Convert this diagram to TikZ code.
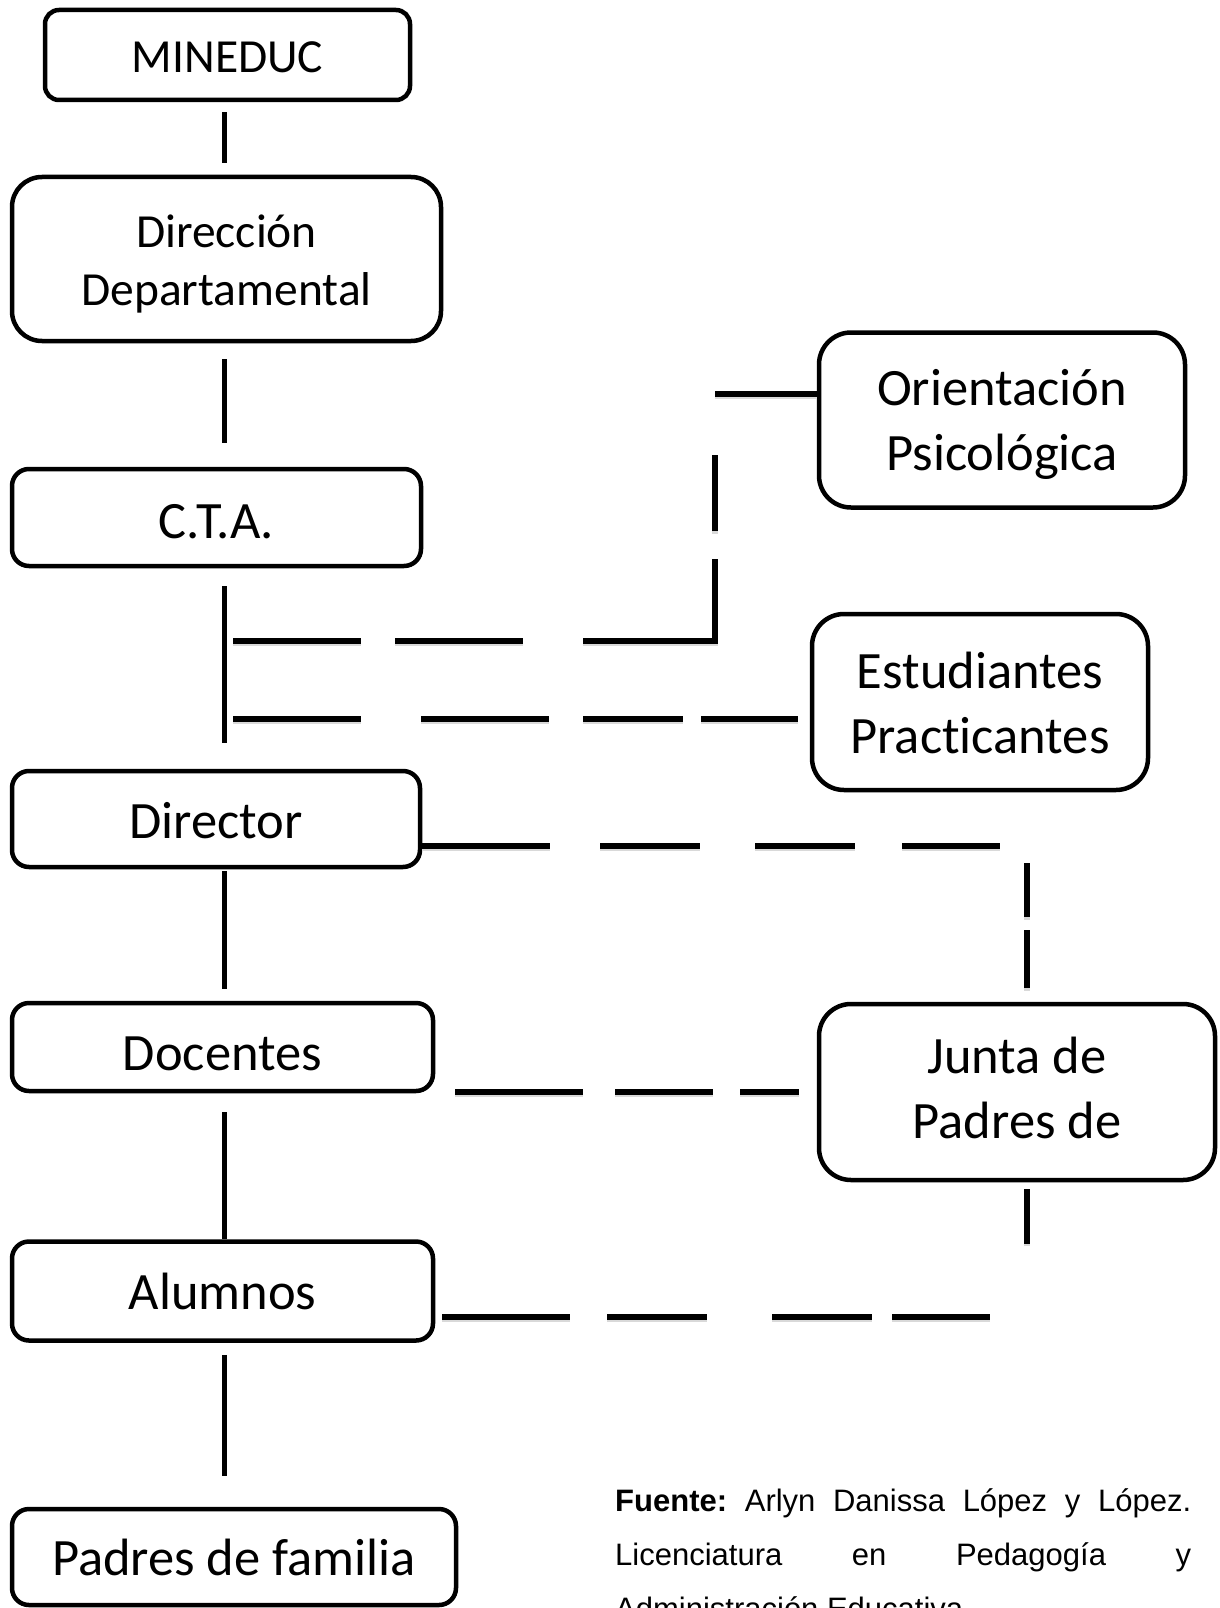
\documentclass[tikz,border=0pt]{standalone}
\usepackage{fontspec}
\setmainfont{Carlito}[Ligatures=CommonOff]
\newfontfamily\capfont{Liberation Sans}
\usepackage{tikz}

\begin{document}
\begin{tikzpicture}[x=1pt, y=-1pt,
  org/.style={draw, line width=4.5pt, rounded corners=17pt, align=center, inner sep=0pt,
    font=\fontsize{52.5}{62}\selectfont},
  orgtop/.style={org, font=\fontsize{47.5}{58}\selectfont},
  orgbig/.style={org, rounded corners=32pt, font=\fontsize{52.5}{65}\selectfont},
  lift/.style={text height=#1, text depth=0pt},
  link/.style={line width=5pt},
  broken/.style={line width=5.5pt, dash pattern=#1,
    preaction={draw=black!15, line width=5.5pt, dash pattern=#1, transform canvas={yshift=-2.5pt}}}]

  \useasboundingbox (0,0) rectangle (1220,1608);

  % Left column
  \node[orgtop, lift=36pt, minimum width=365pt, minimum height=90pt, rounded corners=14pt] (mineduc) at (227.5,55) {MINEDUC};
  \node[orgtop, lift=92pt, minimum width=429pt, minimum height=164pt, rounded corners=30pt] (direccion) at (226.5,259) {Dirección\\Departamental};
  \node[org, lift=41pt, minimum width=409pt, minimum height=97pt] (cta) at (216.5,517.5) {C.T.A.};
  \node[org, lift=38pt, minimum width=408pt, minimum height=96pt] (director) at (216,819) {Director};
  \node[org, lift=46pt, minimum width=421pt, minimum height=88pt] (docentes) at (222.5,1047) {Docentes};
  \node[org, minimum width=421pt, minimum height=99pt] (alumnos) at (222.5,1291) {Alumnos};
  \node[org, minimum width=444pt, minimum height=96pt] (padres) at (234,1557) {Padres de familia};

  % Right column
  \node[orgbig, lift=100pt, minimum width=366pt, minimum height=175pt] (orient) at (1002,420) {Orientación\\Psicológica};
  \node[orgbig, lift=102pt, minimum width=336pt, minimum height=176pt] (estud) at (980,702) {Estudiantes\\Practicantes};
  \node[orgbig, lift=92pt, minimum width=396pt, minimum height=176pt] (junta) at (1017,1092) {Junta de\\Padres de};

  % Source note
  \node[anchor=north west, inner sep=0pt, text width=576pt, align=justify,
    font=\capfont\fontsize{31}{54}\selectfont\frenchspacing] (fuente) at (615,1488)
    {\textbf{Fuente:} Arlyn Danissa López y López.\linebreak
     Licenciatura en Pedagogía y\linebreak
     Administración Educativa};

  % Corner points
  \coordinate (spine) at (224,0);
  \coordinate (up) at (233,641);
  \coordinate (upk) at (715,394);
  \coordinate (low) at (233,719);
  \coordinate (dirk) at (1027,846);
  \coordinate (alk) at (1027,1317);

  % Main line
  \draw[link, shorten <=10pt, shorten >=12pt] (mineduc.south -| spine) -- (direccion.north -| spine);
  \draw[link, shorten <=16pt, shorten >=24pt] (direccion.south -| spine) -- (cta.north -| spine);
  \draw[link, shorten <=18pt, shorten >=26pt] (cta.south -| spine) -- (director.north -| spine);
  \draw[link, shorten <=2pt, shorten >=12pt] (director.south -| spine) -- (docentes.north -| spine);
  \draw[link, shorten <=19pt] (docentes.south -| spine) -- (alumnos.north -| spine);
  \draw[link, shorten <=12pt, shorten >=31pt] (alumnos.south -| spine) -- (padres.north -| spine);

  % Broken lines
  \draw[broken={on 128pt off 34pt on 128pt off 60pt on 214pt off 28pt on 76pt off 61pt on 120pt}]
    (up) -- (up -| upk) -- (upk) -- (upk -| orient.west);
  \draw[broken={on 128pt off 60pt on 128pt off 34pt on 100pt off 18pt on 97pt off 40pt}]
    (low) -- (low -| estud.west);
  \draw[broken={on 128pt off 50pt on 100pt off 55pt on 100pt off 47pt on 98pt off 44pt on 54pt off 13pt on 58pt off 30pt}]
    (dirk -| director.east) -- (dirk) -- (dirk |- junta.north);
  \draw[broken={on 128pt off 32pt on 98pt off 27pt on 59pt off 30pt}, shorten <=20pt]
    (docentes.east |- junta.west) -- (junta.west);
  \draw[broken={on 128pt off 37pt on 100pt off 65pt on 100pt off 20pt on 98pt off 110pt on 55pt off 30pt}, shorten <=7pt]
    (alk -| alumnos.east) -- (alk) -- (alk |- junta.south);
\end{tikzpicture}
\end{document}
